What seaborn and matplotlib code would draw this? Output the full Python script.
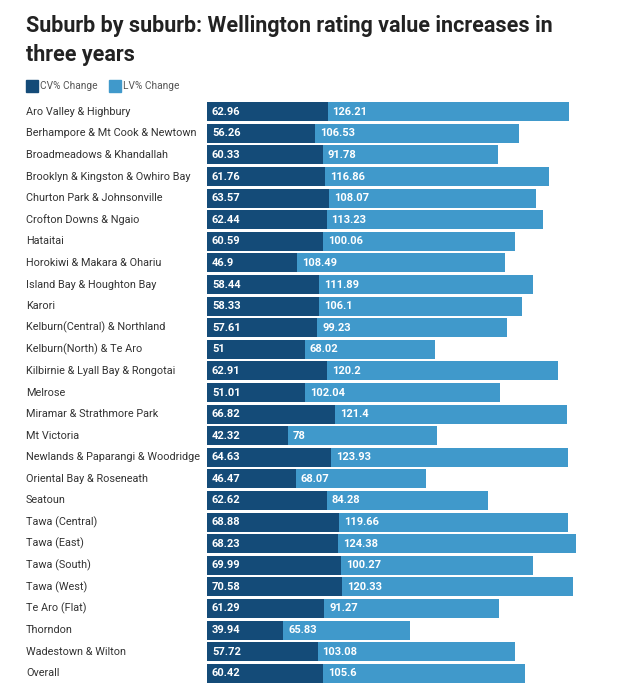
import numpy as np
import pandas as pd
import matplotlib
matplotlib.use("Agg")
import matplotlib.pyplot as plt
import seaborn as sns
from matplotlib.patches import Rectangle
import matplotlib.transforms as mtransforms

suburbs = [
    "Aro Valley & Highbury", "Berhampore & Mt Cook & Newtown", "Broadmeadows & Khandallah",
    "Brooklyn & Kingston & Owhiro Bay", "Churton Park & Johnsonville", "Crofton Downs & Ngaio",
    "Hataitai", "Horokiwi & Makara & Ohariu", "Island Bay & Houghton Bay", "Karori",
    "Kelburn(Central) & Northland", "Kelburn(North) & Te Aro", "Kilbirnie & Lyall Bay & Rongotai",
    "Melrose", "Miramar & Strathmore Park", "Mt Victoria", "Newlands & Paparangi & Woodridge",
    "Oriental Bay & Roseneath", "Seatoun", "Tawa (Central)", "Tawa (East)", "Tawa (South)",
    "Tawa (West)", "Te Aro (Flat)", "Thorndon", "Wadestown & Wilton", "Overall",
]
cv_change = [62.96, 56.26, 60.33, 61.76, 63.57, 62.44, 60.59, 46.9, 58.44, 58.33, 57.61, 51,
             62.91, 51.01, 66.82, 42.32, 64.63, 46.47, 62.62, 68.88, 68.23, 69.99, 70.58,
             61.29, 39.94, 57.72, 60.42]
lv_change = [126.21, 106.53, 91.78, 116.86, 108.07, 113.23, 100.06, 108.49, 111.89, 106.1,
             99.23, 68.02, 120.2, 102.04, 121.4, 78, 123.93, 68.07, 84.28, 119.66, 124.38,
             100.27, 120.33, 91.27, 65.83, 103.08, 105.6]

CV_COLOR = "#144b78"
LV_COLOR = "#4099cb"

df = pd.DataFrame({"suburb": suburbs, "cv": cv_change, "lv": lv_change})
df["total"] = df["cv"] + df["lv"]

sns.set_style("white")
plt.rcParams["font.family"] = ["Roboto", "DejaVu Sans"]

W, H = 626, 691
fig = plt.figure(figsize=(W / 100, H / 100), dpi=100)
ax = fig.add_axes([207 / W, 1 - 684 / H, (590 - 207) / W, (684 - 101) / H])

# stacked look: total bar (light) first, CV bar (dark) on top
sns.barplot(data=df, y="suburb", x="total", color=LV_COLOR, orient="h",
            width=0.88, saturation=1, ax=ax, linewidth=0)
sns.barplot(data=df, y="suburb", x="cv", color=CV_COLOR, orient="h",
            width=0.88, saturation=1, ax=ax, linewidth=0)

ax.set_xlim(0, 200)
ax.set_ylim(len(suburbs) - 0.5, -0.5)
ax.set_xlabel("")
ax.set_ylabel("")
ax.set_xticks([])
ax.set_yticks([])
sns.despine(ax=ax, left=True, bottom=True)

# value labels inside the segments
pad = mtransforms.offset_copy(ax.transData, fig=fig, x=5, y=0, units="dots")
for i, (cv, lv) in enumerate(zip(cv_change, lv_change)):
    ax.text(0, i, f"{cv:g}", transform=pad, color="white", fontsize=8,
            fontweight="bold", va="center", ha="left")
    ax.text(cv, i, f"{lv:g}", transform=pad, color="white", fontsize=8,
            fontweight="bold", va="center", ha="left")

# category labels, left aligned at the figure margin
lab_tr = mtransforms.blended_transform_factory(fig.transFigure, ax.transData)
for i, s in enumerate(suburbs):
    ax.text(26 / W, i, s, transform=lab_tr, color="#333333", fontsize=7.8,
            va="center", ha="left", clip_on=False)

# title
fig.text(26 / W, 1 - 15 / H, "Suburb by suburb: Wellington rating value increases in\nthree years",
         fontsize=15.5, fontweight="bold", color="#222222", va="top", ha="left",
         linespacing=1.4)

# legend
for x0, lab, col in [(26, "CV% Change", CV_COLOR), (109, "LV% Change", LV_COLOR)]:
    fig.patches.append(Rectangle((x0 / W, 1 - 92 / H), 12 / W, 12 / H,
                                 transform=fig.transFigure, color=col))
    fig.text((x0 + 14) / W, 1 - 86 / H, lab, fontsize=7.3, color="#555555",
             va="center", ha="left")

fig.savefig("out.png", dpi=100)
